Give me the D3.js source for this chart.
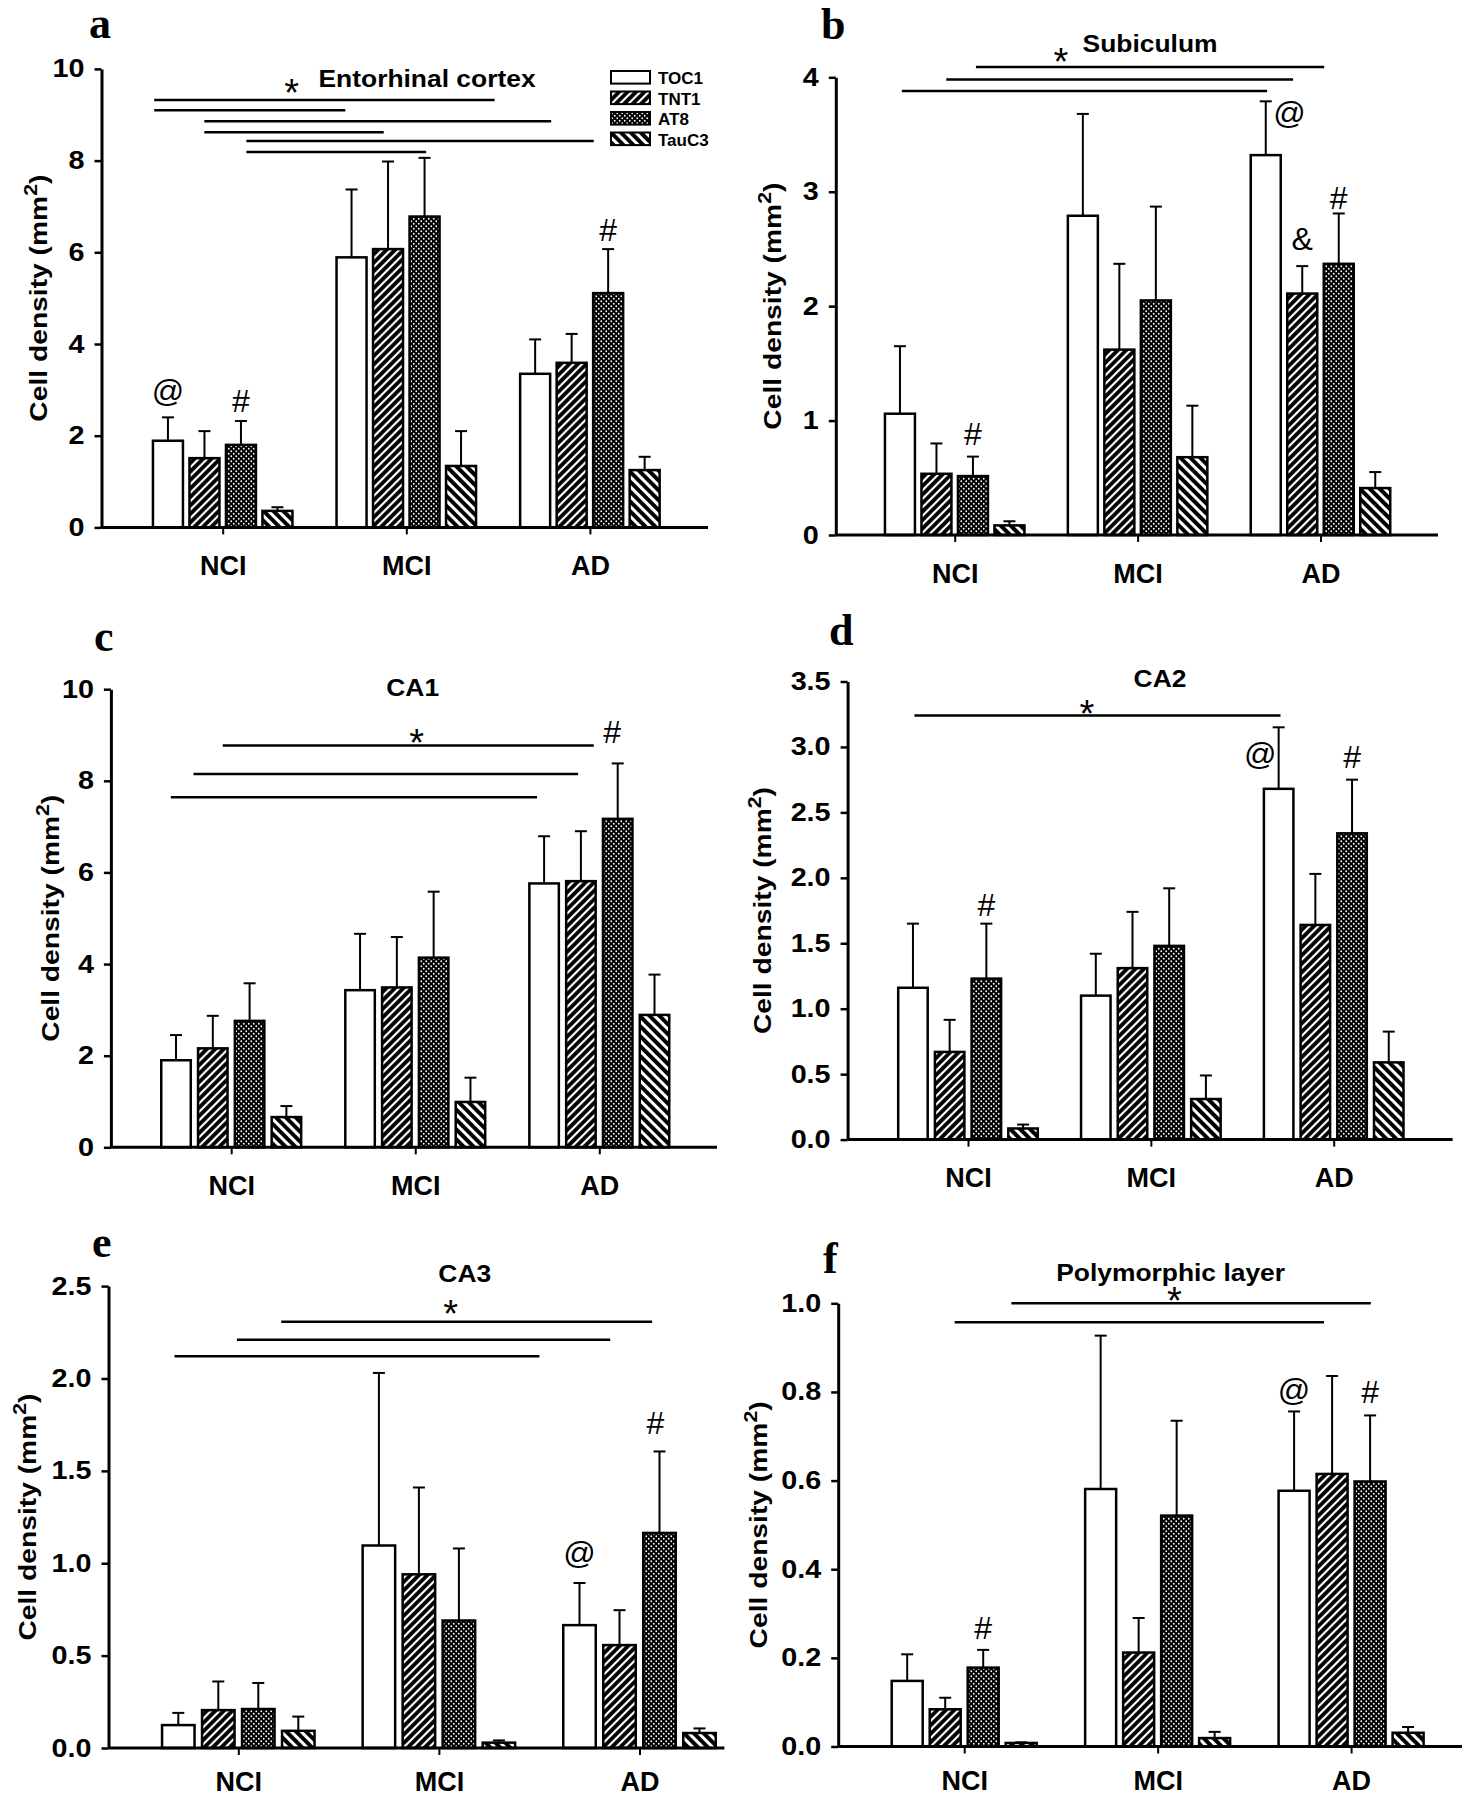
<!doctype html>
<html>
<head>
<meta charset="UTF-8">
<title>Cell density by region</title>
<script src="https://cdn.jsdelivr.net/npm/d3@7"></script>
<style>
  body { margin: 0; background: #fff; }
  text { font-family: "Liberation Sans", Arial, sans-serif; fill: #000; }
</style>
</head>
<body>
<script>
// ---- data -------------------------------------------------------------
var groups = ["NCI", "MCI", "AD"];
var series = ["TOC1", "TNT1", "AT8", "TauC3"];

// rows = series (TOC1, TNT1, AT8, TauC3), columns = groups (NCI, MCI, AD)
var entoMean = [[1.89, 5.89, 3.35], [1.51, 6.07, 3.59], [1.80, 6.78, 5.11], [0.36, 1.34, 1.25]];
var entoSem  = [[0.51, 1.48, 0.75], [0.59, 1.91, 0.63], [0.52, 1.28, 0.96], [0.08, 0.76, 0.29]];
var subMean  = [[1.06, 2.79, 3.32], [0.535, 1.62, 2.11], [0.515, 2.05, 2.37], [0.084, 0.68, 0.41]];
var subSem   = [[0.59, 0.89, 0.47], [0.265, 0.75, 0.24], [0.17, 0.82, 0.44], [0.036, 0.45, 0.14]];
var ca1Mean  = [[1.90, 3.43, 5.76], [2.16, 3.49, 5.81], [2.76, 4.14, 7.17], [0.66, 0.99, 2.89]];
var ca1Sem   = [[0.55, 1.23, 1.03], [0.71, 1.10, 1.09], [0.82, 1.44, 1.21], [0.24, 0.53, 0.88]];
var ca2Mean  = [[1.16, 1.10, 2.68], [0.67, 1.31, 1.64], [1.23, 1.48, 2.34], [0.085, 0.31, 0.59]];
var ca2Sem   = [[0.49, 0.32, 0.47], [0.245, 0.43, 0.39], [0.42, 0.44, 0.41], [0.03, 0.18, 0.235]];
var ca3Mean  = [[0.124, 1.096, 0.665], [0.205, 0.94, 0.557], [0.211, 0.69, 1.164], [0.093, 0.029, 0.081]];
var ca3Sem   = [[0.066, 0.934, 0.228], [0.155, 0.47, 0.189], [0.141, 0.39, 0.441], [0.077, 0.012, 0.025]];
var polyMean = [[0.148, 0.581, 0.577], [0.084, 0.212, 0.615], [0.178, 0.521, 0.598], [0.008, 0.019, 0.031]];
var polySem  = [[0.06, 0.346, 0.179], [0.026, 0.078, 0.221], [0.04, 0.214, 0.149], [0.0015, 0.014, 0.013]];

// significance bars: [from, to] in group units (NCI=0 .. AD=2), height in y units
var entoSig = [[-0.373, 1.481, 9.32], [-0.373, 0.668, 9.10], [-0.100, 1.789, 8.86],
               [-0.100, 0.877, 8.62], [0.129, 2.021, 8.43], [0.129, 1.108, 8.19]];
var subSig  = [[0.116, 2.02, 4.09], [-0.046, 1.85, 3.98], [-0.289, 1.708, 3.88]];
var ca1Sig  = [[-0.046, 1.97, 8.77], [-0.205, 1.885, 8.15], [-0.328, 1.662, 7.64]];
var ca2Sig  = [[-0.293, 1.709, 3.24]];
var ca3Sig  = [[0.214, 2.063, 2.307], [-0.007, 1.854, 2.21], [-0.318, 1.501, 2.12]];
var polySig = [[0.244, 2.102, 1.0], [-0.049, 1.86, 0.957]];

// symbols over bars: [symbol, group index, series index, y units, shift in bar steps]
var entoMarks = [["@", 0, 0, 2.74, 0], ["#", 0, 2, 2.51, 0], ["#", 2, 2, 6.24, 0]];
var subMarks  = [["@", 2, 0, 3.59, 0.65], ["&", 2, 1, 2.49, 0], ["#", 0, 2, 0.787, 0], ["#", 2, 2, 2.85, 0]];
var ca1Marks  = [["#", 2, 2, 8.82, -0.15]];
var ca2Marks  = [["@", 2, 0, 2.86, -0.5], ["#", 2, 2, 2.84, 0], ["#", 0, 2, 1.71, 0]];
var ca3Marks  = [["@", 2, 0, 0.998, 0], ["#", 2, 2, 1.698, -0.1]];
var polyMarks = [["@", 2, 0, 0.78, 0], ["#", 2, 2, 0.775, 0], ["#", 0, 2, 0.242, 0]];

// ---- layout ------------------------------------------------------------
var panels = [
  {tag: "a", title: "Entorhinal cortex", mean: entoMean, sem: entoSem, sig: entoSig, marks: entoMarks,
   ymax: 10, step: 2, fmt: "d", left: 101.5, right: 708, c0: 222.7, c2: 589.9, top: 68.9, bottom: 527.4,
   barW: 30, barStep: 36.5, catY: 38, tagX: 89, tagY: 38, ylabX: 47, titleAt: [1.113, 9.60], starAt: [0.375, 9.67], legend: true},
  {tag: "b", title: "Subiculum", mean: subMean, sem: subSem, sig: subSig, marks: subMarks,
   ymax: 4, step: 1, fmt: "d", left: 835.8, right: 1438, c0: 954.7, c2: 1320.5, top: 77.3, bottom: 535,
   barW: 30, barStep: 36.5, catY: 38, tagX: 821, tagY: 39, ylabX: 781, titleAt: [1.068, 4.22], starAt: [0.581, 4.21]},
  {tag: "c", title: "CA1", mean: ca1Mean, sem: ca1Sem, sig: ca1Sig, marks: ca1Marks,
   ymax: 10, step: 2, fmt: "d", left: 110.9, right: 717, c0: 231.2, c2: 599.3, top: 689.2, bottom: 1147.3,
   barW: 29.5, barStep: 36.8, catY: 38, tagX: 94, tagY: 651, ylabX: 58.5, titleAt: [0.986, 9.86], starAt: [1.008, 9.02]},
  {tag: "d", title: "CA2", mean: ca2Mean, sem: ca2Sem, sig: ca2Sig, marks: ca2Marks,
   ymax: 3.5, step: 0.5, fmt: ".1f", left: 847.6, right: 1452.6, c0: 968, c2: 1333.7, top: 681.5, bottom: 1139.6,
   barW: 29.5, barStep: 36.7, catY: 38, tagX: 829, tagY: 645, ylabX: 771, titleAt: [1.05, 3.455], starAt: [0.65, 3.32]},
  {tag: "e", title: "CA3", mean: ca3Mean, sem: ca3Sem, sig: ca3Sig, marks: ca3Marks,
   ymax: 2.5, step: 0.5, fmt: ".1f", left: 108.5, right: 724.4, c0: 238.3, c2: 639.5, top: 1286.1, bottom: 1748,
   barW: 32.5, barStep: 40, catY: 33, tagX: 92, tagY: 1257, ylabX: 36, titleAt: [1.129, 2.52], starAt: [1.059, 2.397]},
  {tag: "f", title: "Polymorphic layer", mean: polyMean, sem: polySem, sig: polySig, marks: polyMarks,
   ymax: 1.0, step: 0.2, fmt: ".1f", left: 838.2, right: 1462, c0: 964.2, c2: 1351.1, top: 1303.3, bottom: 1746.5,
   barW: 31, barStep: 38, catY: 34, tagX: 823, tagY: 1273, ylabX: 767, titleAt: [1.067, 1.05], starAt: [1.086, 1.026]}
];

var W = 1479, H = 1800;
var svg = d3.select("body").append("svg").attr("width", W).attr("height", H);
var defs = svg.append("defs");

// fill patterns
function hatch(id, size, angle, lw) {
  var p = defs.append("pattern").attr("id", id).attr("patternUnits", "userSpaceOnUse")
    .attr("width", size).attr("height", size).attr("patternTransform", "rotate(" + angle + ")");
  p.append("rect").attr("width", size).attr("height", size).attr("fill", "#000");
  p.append("line").attr("x1", size / 2).attr("x2", size / 2).attr("y1", 0).attr("y2", size)
    .attr("stroke", "#fff").attr("stroke-width", lw);
}
hatch("pTNT1", 6, 45, 2.2);
hatch("pTauC3", 7, -45, 3);
var dots = defs.append("pattern").attr("id", "pAT8").attr("patternUnits", "userSpaceOnUse")
  .attr("width", 5).attr("height", 5);
dots.append("rect").attr("width", 5).attr("height", 5).attr("fill", "#000");
dots.append("circle").attr("cx", 1.25).attr("cy", 1.25).attr("r", 0.9).attr("fill", "#fff");
dots.append("circle").attr("cx", 3.75).attr("cy", 3.75).attr("r", 0.9).attr("fill", "#fff");

var fills = {TOC1: "#fff", TNT1: "url(#pTNT1)", AT8: "url(#pAT8)", TauC3: "url(#pTauC3)"};

// the source figure's lettering is a bit wider than plain Arial bold
function widen(sel, k) {
  sel.each(function() {
    var w = this.getComputedTextLength();
    d3.select(this).attr("textLength", w * k).attr("lengthAdjust", "spacingAndGlyphs");
  });
}

panels.forEach(drawPanel);

function drawPanel(p) {
  var g = svg.append("g");
  var y = d3.scaleLinear().domain([0, p.ymax]).range([p.bottom, p.top]);
  var xp = d3.scalePoint().domain(groups).range([p.c0, p.c2]);
  var xu = d3.scaleLinear().domain([0, 2]).range([p.c0, p.c2]);
  var span = 3 * p.barStep + p.barW;
  var x1 = d3.scaleBand().domain(series).range([-span / 2, span / 2])
    .paddingInner(1 - p.barW / p.barStep);

  var rows = [];
  series.forEach(function(s, i) {
    groups.forEach(function(gr, j) {
      rows.push({s: s, g: gr, v: p.mean[i][j], e: p.sem[i][j]});
    });
  });
  function cx(d) { return xp(d.g) + x1(d.s) + x1.bandwidth() / 2; }

  // error bars (upper only)
  var eb = g.append("g").attr("stroke", "#000").attr("stroke-width", 2);
  eb.selectAll("line.v").data(rows).enter().append("line").attr("class", "v")
    .attr("x1", cx).attr("x2", cx)
    .attr("y1", function(d) { return y(d.v); })
    .attr("y2", function(d) { return y(d.v + d.e); });
  eb.selectAll("line.c").data(rows).enter().append("line").attr("class", "c")
    .attr("x1", function(d) { return cx(d) - 6; }).attr("x2", function(d) { return cx(d) + 6; })
    .attr("y1", function(d) { return y(d.v + d.e); })
    .attr("y2", function(d) { return y(d.v + d.e); });

  // bars
  g.append("g").selectAll("rect").data(rows).enter().append("rect")
    .attr("x", function(d) { return xp(d.g) + x1(d.s); })
    .attr("y", function(d) { return y(d.v); })
    .attr("width", x1.bandwidth())
    .attr("height", function(d) { return y(0) - y(d.v); })
    .attr("fill", function(d) { return fills[d.s]; })
    .attr("stroke", "#000").attr("stroke-width", 2.5);

  // axes
  var ya = g.append("g").attr("transform", "translate(" + p.left + ",0)")
    .call(d3.axisLeft(y).tickValues(d3.range(0, p.ymax + 1e-9, p.step))
      .tickFormat(d3.format(p.fmt)).tickSize(7).tickSizeOuter(0).tickPadding(10));
  ya.attr("font-family", null).attr("font-size", null);
  ya.select(".domain").attr("stroke-width", 3);
  ya.selectAll(".tick line").attr("stroke-width", 2.5);
  ya.selectAll(".tick text").attr("font-size", 25).attr("font-weight", "bold")
    .call(widen, 1.15);

  var xa = g.append("g").attr("transform", "translate(0," + p.bottom + ")")
    .call(d3.axisBottom(xp).tickSize(7).tickSizeOuter(0));
  xa.attr("font-family", null).attr("font-size", null);
  xa.select(".domain").remove();
  xa.append("line").attr("x1", p.left).attr("x2", p.right).attr("y1", 0).attr("y2", 0)
    .attr("stroke", "#000").attr("stroke-width", 3);
  xa.selectAll(".tick line").attr("stroke-width", 2);
  xa.selectAll(".tick text").attr("y", p.catY).attr("dy", "0.36em")
    .attr("font-size", 27).attr("font-weight", "bold");

  // y label
  var yl = g.append("text")
    .attr("transform", "translate(" + p.ylabX + "," + ((p.top + p.bottom) / 2) + ") rotate(-90)")
    .attr("text-anchor", "middle").attr("font-size", 24).attr("font-weight", "bold")
    .attr("textLength", 247).attr("lengthAdjust", "spacingAndGlyphs");
  yl.append("tspan").text("Cell density (mm");
  yl.append("tspan").attr("dy", -10).attr("font-size", 18).text("2");
  yl.append("tspan").attr("dy", 10).text(")");

  // significance lines
  g.append("g").selectAll("line").data(p.sig).enter().append("line")
    .attr("x1", function(d) { return xu(d[0]); }).attr("x2", function(d) { return xu(d[1]); })
    .attr("y1", function(d) { return y(d[2]); }).attr("y2", function(d) { return y(d[2]); })
    .attr("stroke", "#000").attr("stroke-width", 2.5);

  g.append("text").attr("x", xu(p.starAt[0])).attr("y", y(p.starAt[1])).attr("dy", "0.58em")
    .attr("text-anchor", "middle").attr("font-size", 38).text("*");

  // symbols over bars
  g.append("g").selectAll("text").data(p.marks).enter().append("text")
    .attr("x", function(d) {
      return xp(groups[d[1]]) + x1(series[d[2]]) + x1.bandwidth() / 2 + d[4] * x1.step();
    })
    .attr("y", function(d) { return y(d[3]); })
    .attr("text-anchor", "middle").attr("font-size", 32)
    .text(function(d) { return d[0]; });

  // title and panel tag
  g.append("text").attr("x", xu(p.titleAt[0])).attr("y", y(p.titleAt[1]))
    .attr("text-anchor", "middle").attr("font-size", 24).attr("font-weight", "bold")
    .text(p.title).call(widen, 1.1);
  g.append("text").attr("x", p.tagX).attr("y", p.tagY)
    .style("font-family", "'Liberation Serif', 'Times New Roman', serif")
    .attr("font-size", 44).attr("font-weight", "bold").text(p.tag);

  if (p.legend) {
    var lg = g.append("g").attr("transform", "translate(611,71)");
    var item = lg.selectAll("g").data(series).enter().append("g")
      .attr("transform", function(d, i) { return "translate(0," + (i * 20.5) + ")"; });
    item.append("rect").attr("width", 39).attr("height", 12.6)
      .attr("fill", function(d) { return fills[d]; })
      .attr("stroke", "#000").attr("stroke-width", 2);
    item.append("text").attr("x", 47).attr("y", 13).attr("font-size", 17)
      .attr("font-weight", "bold").text(function(d) { return d; });
  }
}
</script>
</body>
</html>
